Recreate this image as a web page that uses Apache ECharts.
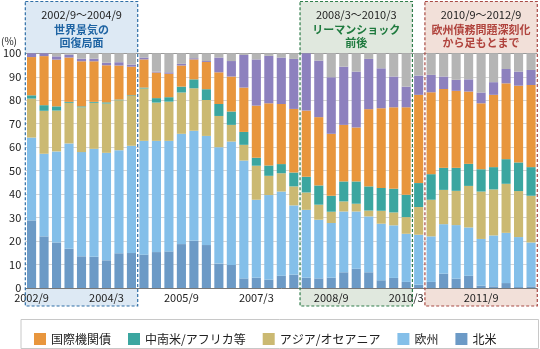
<!DOCTYPE html>
<html><head><meta charset="utf-8">
<script src="https://cdn.jsdelivr.net/npm/echarts@6/dist/echarts.min.js"></script>
<style>html,body{margin:0;padding:0;background:#fff}#c{width:540px;height:349px}</style>
</head><body><div id="c"></div>
<script>
const categories = ['2002/9','2002/12','2003/3','2003/6','2003/9','2003/12','2004/3','2004/6','2004/9','2004/12',
  '2005/3','2005/6','2005/9','2005/12','2006/3','2006/6','2006/9','2006/12','2007/3','2007/6',
  '2007/9','2007/12','2008/3','2008/6','2008/9','2008/12','2009/3','2009/6','2009/9','2009/12',
  '2010/3','2010/6','2010/9','2010/12','2011/3','2011/6','2011/9','2011/12','2012/3','2012/6','2012/9'];
const northAmerica = [28.8,22.0,19.4,16.7,13.5,13.3,11.8,14.8,14.9,14.2,15.3,15.6,18.7,20.1,18.3,10.4,9.8,4.1,4.4,3.6,5.2,5.7,4.4,4.1,4.4,6.7,8.2,6.7,3.3,4.3,2.6,1.4,2.6,6.1,4.0,5.2,1.0,0.7,2.1,0.4,0.7];
const europe = [35.3,35.2,38.8,44.9,44.4,46.0,45.8,43.9,45.7,48.5,47.4,47.1,47.0,46.9,46.5,49.6,52.6,50.2,33.2,36.0,35.9,29.5,28.9,25.0,23.3,25.9,24.4,23.8,24.1,22.4,20.5,21.3,19.4,21.1,22.8,20.6,19.9,21.7,21.4,21.3,18.7];
const asiaOceania = [16.6,18.3,17.4,17.3,19.1,19.6,21.0,21.3,21.2,22.3,16.3,16.7,17.6,18.1,15.3,13.3,7.1,6.7,14.5,8.2,7.8,8.1,7.4,6.4,4.8,4.3,3.3,2.5,5.5,5.5,7.1,11.8,15.6,14.6,14.6,17.7,20.2,19.6,20.9,19.6,19.9];
const latamAfrica = [1.4,2.4,1.8,0.4,0.4,0.4,0.5,0.3,0.3,0.4,1.9,1.9,2.5,3.8,4.6,5.1,5.7,5.5,3.4,4.4,3.9,5.9,6.7,8.2,6.8,8.5,9.5,10.3,9.7,10.1,9.5,10.2,10.9,9.4,9.8,9.4,9.5,9.5,10.5,12.2,12.2];
const intlOrg = [16.3,20.9,19.9,18.9,19.2,17.3,15.8,14.5,12.2,12.0,10.9,10.0,9.0,8.5,11.6,13.5,14.9,18.9,22.2,26.5,25.6,27.1,28.2,29.1,26.4,24.1,23.0,32.9,34.0,34.7,37.3,37.6,34.9,33.6,32.8,30.8,28.1,30.8,32.3,32.7,35.0];
const purpleOther = [1.6,1.2,1.4,1.2,1.1,1.1,1.1,1.4,0.9,0.8,0.4,0.6,0.7,0.5,0.4,6.3,6.6,13.9,19.7,20.2,19.8,21.3,24.4,24.1,24.1,24.8,23.8,21.4,17.0,13.1,8.8,8.2,7.4,5.3,4.7,5.2,4.6,5.4,6.1,6.0,6.4];
const grayOther = [0,0,1.3,0.6,2.3,2.3,4.0,3.8,4.8,1.8,7.8,8.1,4.5,2.1,3.3,1.8,3.3,0.7,2.6,1.1,1.8,2.4,0,3.1,10.2,5.7,7.8,2.4,6.4,9.9,14.2,9.5,9.2,9.9,11.3,11.1,16.7,12.3,6.7,7.8,7.1];
const seriesNames = ['北米','欧州','アジア/オセアニア','中南米/アフリカ等','国際機関債','その他1','その他2'];
const legendOrder = ['国際機関債','中南米/アフリカ等','アジア/オセアニア','欧州','北米'];
const yTicks = [0,10,20,30,40,50,60,70,80,90,100];
const periodStart = ['2002/9','2008/3','2010/9'];
const periodEnd = ['2004/9','2010/3','2012/9'];
const periodRange = ['2002/9～2004/9','2008/3～2010/3','2010/9～2012/9'];
const periodTitle = [['世界景気の','回復局面'],['リーマンショック','前後'],['欧州債務問題深刻化','から足もとまで']];

const FONT = "'Noto Sans CJK JP', 'Noto Sans', sans-serif";
const colors = ['#6c9ac6','#84bfe9','#cbb972','#3ba6a0','#e8963d','#8d81be','#b5b5b5'];
const boxStroke = ['#2e6ea6','#2f7d4a','#a84a45'];
const boxFill = ['#dde9f4','#e0e8de','#f2e0d9'];
const titleColor = ['#1f64a3','#1e7a3e','#b0433d'];

const dataArrays = [northAmerica, europe, asiaOceania, latamAfrica, intlOrg, purpleOther, grayOther];
const chart = echarts.init(document.getElementById('c'), null, {renderer:'canvas'});
const splitColors = yTicks.map(v => v === 100 ? '#9a9a9a' : '#d6d6d6');

chart.setOption({
  animation: false,
  backgroundColor: '#fff',
  textStyle: {fontFamily: FONT},
  grid: {left: 21.5, right: 2.7, top: 53.3, bottom: 61},
  legend: {
    data: legendOrder, left: 29, top: 328, itemWidth: 12, itemHeight: 12, itemGap: 17,
    icon: 'rect', textStyle: {fontSize: 12, color: '#222', fontFamily: FONT}, selectedMode: false
  },
  xAxis: {
    type: 'category', data: categories,
    axisLine: {lineStyle: {color: '#777'}},
    axisTick: {show: false},
    axisLabel: {interval: 5, fontSize: 11, color: '#222', margin: 4, fontFamily: FONT}
  },
  yAxis: {
    type: 'value', min: 0, max: 100, interval: 10,
    axisLine: {show: false}, axisTick: {show: false},
    axisLabel: {fontSize: 11, color: '#222', margin: 4, fontFamily: FONT},
    splitLine: {lineStyle: {color: splitColors, width: 1}}
  },
  series: seriesNames.map((n, i) => ({
    name: n, type: 'bar', stack: 'total', data: dataArrays[i],
    barCategoryGap: '27%', itemStyle: {color: colors[i]},
    emphasis: {disabled: true}, silent: true
  }))
});

function buildGraphics() {
  const g = [];
  const c0 = chart.convertToPixel({xAxisIndex: 0}, categories[0]);
  const c1 = chart.convertToPixel({xAxisIndex: 0}, categories[1]);
  const half = (c1 - c0) / 2;
  const plotTop = chart.convertToPixel({yAxisIndex: 0}, 100);
  const plotBottom = chart.convertToPixel({yAxisIndex: 0}, 0);
  const boxTop = 1.5, boxBottom = 306;
  for (let k = 0; k < periodStart.length; k++) {
    const x0 = chart.convertToPixel({xAxisIndex: 0}, periodStart[k]) - half;
    const x1 = Math.min(chart.convertToPixel({xAxisIndex: 0}, periodEnd[k]) + half, 538.5);
    g.push({type: 'rect', shape: {x: x0, y: boxTop, width: x1 - x0, height: plotTop - boxTop}, style: {fill: boxFill[k]}, z: -1, silent: true});
    g.push({type: 'rect', shape: {x: x0, y: plotBottom + 0.5, width: x1 - x0, height: boxBottom - plotBottom - 0.5}, style: {fill: boxFill[k]}, z: -1, silent: true});
    g.push({type: 'rect', shape: {x: x0, y: boxTop, width: x1 - x0, height: boxBottom - boxTop}, style: {fill: null, stroke: boxStroke[k], lineWidth: 1.2, lineDash: [3, 2]}, z: 100, silent: true});
    const cx = (x0 + x1) / 2;
    g.push({type: 'text', x: cx, y: 14.5, style: {text: periodRange[k], fill: '#222', font: '11px ' + FONT, textAlign: 'center', textVerticalAlign: 'middle'}, z: 101});
    g.push({type: 'text', x: cx, y: 30, style: {text: periodTitle[k][0], fill: titleColor[k], font: 'bold 11px ' + FONT, textAlign: 'center', textVerticalAlign: 'middle'}, z: 101});
    g.push({type: 'text', x: cx, y: 43, style: {text: periodTitle[k][1], fill: titleColor[k], font: 'bold 11px ' + FONT, textAlign: 'center', textVerticalAlign: 'middle'}, z: 101});
  }
  g.push({type: 'text', x: 1, y: 41, style: {text: '(%)', fill: '#222', font: '10px ' + FONT, textVerticalAlign: 'middle'}, z: 101});
  g.push({type: 'rect', shape: {x: 21, y: 319.5, width: 517.5, height: 29}, style: {fill: '#fff', stroke: '#c8c8c8', lineWidth: 1}, z: -1, silent: true});
  chart.setOption({graphic: g});
}
buildGraphics();
</script>
</body></html>
